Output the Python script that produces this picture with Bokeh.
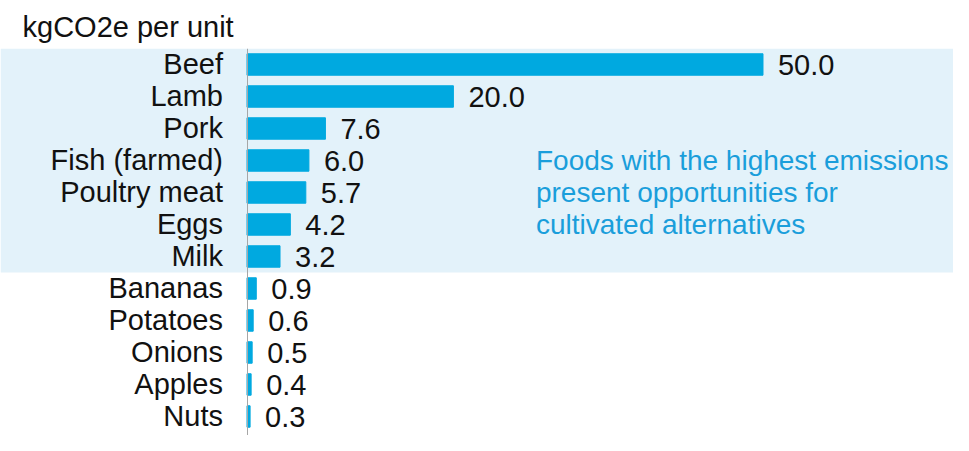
from bokeh.plotting import figure
from bokeh.models import Range1d, FixedTicker, BoxAnnotation
from bokeh.core.properties import value
from bokeh.embed import file_html
from bokeh.resources import INLINE

# ---- data ----
categories = ["Beef", "Lamb", "Pork", "Fish (farmed)", "Poultry meat", "Eggs", "Milk",
              "Bananas", "Potatoes", "Onions", "Apples", "Nuts"]
emissions = [50.0, 20.0, 7.6, 6.0, 5.7, 4.2, 3.2, 0.9, 0.6, 0.5, 0.4, 0.3]
highlighted_count = 7
unit_title = "kgCO2e per unit"
note_lines = ["Foods with the highest emissions",
              "present opportunities for",
              "cultivated alternatives"]
note_rows = ["Fish (farmed)", "Poultry meat", "Eggs"]

# ---- derived ----
n = len(categories)
ypos = [n - 1 - i for i in range(n)]
ymap = dict(zip(categories, ypos))
value_labels = [f"{v:.1f}" for v in emissions]

FONT = "Liberation Sans"
FS = "29px"
DARK = "#111111"
BAR = "#00a9e0"
BAND = "#e3f2fa"
NOTE = "#1a9edb"

p = figure(width=953, height=435, output_backend="svg", toolbar_location=None,
           x_range=Range1d(-23.886, 68.46), y_range=Range1d(-0.594, 11.5),
           min_border_left=0, min_border_right=0, min_border_bottom=0, min_border_top=48)

p.title.text = unit_title
p.title.align = "left"
p.title.offset = 22
p.title.standoff = 12
p.title.text_font = FONT
p.title.text_font_size = FS
p.title.text_font_style = "normal"
p.title.text_color = DARK

p.outline_line_color = None
p.xgrid.visible = False
p.ygrid.visible = False
p.xaxis.visible = False
p.background_fill_color = "white"
p.border_fill_color = "white"

band = BoxAnnotation(bottom=n - highlighted_count - 0.5, top=n - 0.5,
                     fill_color=BAND, fill_alpha=1.0, line_color=None, level="underlay")
p.add_layout(band)

p.hbar(y=ypos, left=0, right=emissions, height=0.67, color=BAR)

p.text(x=emissions, y=ypos, text=value_labels, x_offset=15, y_offset=1,
       text_align="left", text_baseline="middle",
       text_font=value(FONT), text_font_size=FS, text_color=DARK)

p.text(x=[28.0] * len(note_lines), y=[ymap[c] for c in note_rows], text=note_lines,
       text_align="left", text_baseline="middle",
       text_font=value(FONT), text_font_size="28px", text_color=NOTE)

ya = p.yaxis[0]
ya.fixed_location = 0
ya.ticker = FixedTicker(ticks=ypos)
ya.major_label_overrides = {y: c for y, c in zip(ypos, categories)}
ya.major_tick_in = 0
ya.major_tick_out = 0
ya.minor_tick_line_color = None
ya.axis_line_color = "#a6a6a6"
ya.axis_line_width = 1
ya.major_label_standoff = 24
ya.major_label_text_font = FONT
ya.major_label_text_font_size = FS
ya.major_label_text_color = DARK

open("out.html", "w").write(file_html(p, INLINE))
